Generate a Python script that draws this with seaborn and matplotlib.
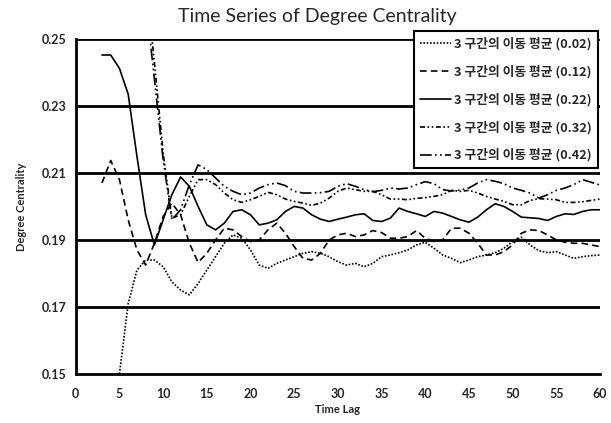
import numpy as np
import pandas as pd
import matplotlib
matplotlib.use("Agg")
import matplotlib.pyplot as plt
import seaborn as sns

# moving-average series (3 intervals)
lag_02 = list(range(5, 61))
ma_02 = [0.1500, 0.1710, 0.1810, 0.1840, 0.1840, 0.1820, 0.1775, 0.1750, 0.1736, 0.1770,
         0.1810, 0.1850, 0.1890, 0.1915, 0.1905, 0.1870, 0.1825, 0.1815, 0.1830, 0.1840,
         0.1850, 0.1860, 0.1865, 0.1860, 0.1850, 0.1835, 0.1825, 0.1830, 0.1820, 0.1830,
         0.1850, 0.1855, 0.1862, 0.1870, 0.1885, 0.1893, 0.1875, 0.1855, 0.1845, 0.1832,
         0.1840, 0.1850, 0.1855, 0.1862, 0.1875, 0.1895, 0.1908, 0.1885, 0.1868, 0.1862,
         0.1865, 0.1855, 0.1845, 0.1850, 0.1853, 0.1855]

lag_12 = list(range(3, 61))
ma_12 = [0.2070, 0.2137, 0.2080, 0.1960, 0.1870, 0.1825, 0.1890, 0.1970, 0.2010, 0.1975,
         0.1890, 0.1833, 0.1860, 0.1900, 0.1935, 0.1930, 0.1910, 0.1895, 0.1900, 0.1930,
         0.1950, 0.1920, 0.1880, 0.1845, 0.1840, 0.1860, 0.1900, 0.1915, 0.1920, 0.1910,
         0.1915, 0.1928, 0.1922, 0.1905, 0.1905, 0.1910, 0.1928, 0.1905, 0.1895, 0.1900,
         0.1935, 0.1935, 0.1920, 0.1890, 0.1855, 0.1855, 0.1865, 0.1885, 0.1920, 0.1930,
         0.1928, 0.1915, 0.1900, 0.1893, 0.1890, 0.1890, 0.1885, 0.1880]

lag_22 = list(range(3, 61))
ma_22 = [0.2452, 0.2452, 0.2412, 0.2335, 0.2150, 0.1975, 0.1885, 0.1960, 0.2035, 0.2088,
         0.2060, 0.2000, 0.1945, 0.1930, 0.1950, 0.1985, 0.1990, 0.1975, 0.1945, 0.1950,
         0.1960, 0.1985, 0.2000, 0.1995, 0.1975, 0.1962, 0.1955, 0.1962, 0.1968, 0.1975,
         0.1978, 0.1958, 0.1955, 0.1965, 0.1995, 0.1985, 0.1978, 0.1970, 0.1985, 0.1980,
         0.1970, 0.1960, 0.1953, 0.1968, 0.1990, 0.2008, 0.2000, 0.1985, 0.1968, 0.1966,
         0.1964, 0.1958, 0.1970, 0.1978, 0.1976, 0.1985, 0.1990, 0.1990]

lag_32 = list(range(8, 61))
ma_32 = [0.2680, 0.2430, 0.2160, 0.1965, 0.1975, 0.2030, 0.2080, 0.2080, 0.2065, 0.2040,
         0.2020, 0.2012, 0.2020, 0.2030, 0.2042, 0.2035, 0.2022, 0.2015, 0.2010, 0.2003,
         0.2010, 0.2025, 0.2045, 0.2055, 0.2050, 0.2045, 0.2045, 0.2035, 0.2022, 0.2022,
         0.2020, 0.2024, 0.2026, 0.2030, 0.2035, 0.2048, 0.2045, 0.2048, 0.2040, 0.2030,
         0.2022, 0.2015, 0.2005, 0.2005, 0.2018, 0.2023, 0.2022, 0.2020, 0.2012, 0.2012,
         0.2014, 0.2018, 0.2022]

lag_42 = list(range(8, 61))
ma_42 = [0.2620, 0.2380, 0.2140, 0.1960, 0.1990, 0.2065, 0.2124, 0.2110, 0.2085, 0.2060,
         0.2045, 0.2035, 0.2040, 0.2055, 0.2065, 0.2070, 0.2062, 0.2045, 0.2040, 0.2040,
         0.2041, 0.2045, 0.2060, 0.2068, 0.2060, 0.2050, 0.2044, 0.2048, 0.2055, 0.2052,
         0.2055, 0.2065, 0.2074, 0.2068, 0.2050, 0.2046, 0.2049, 0.2055, 0.2070, 0.2080,
         0.2075, 0.2068, 0.2055, 0.2048, 0.2040, 0.2025, 0.2035, 0.2048, 0.2055, 0.2065,
         0.2080, 0.2072, 0.2064]

labels = ["3 구간의 이동 평균 (0.02)", "3 구간의 이동 평균 (0.12)", "3 구간의 이동 평균 (0.22)",
          "3 구간의 이동 평균 (0.32)", "3 구간의 이동 평균 (0.42)"]
y_ticks = [0.15, 0.17, 0.19, 0.21, 0.23, 0.25]
x_ticks = list(range(0, 61, 5))

series = [(lag_02, ma_02), (lag_12, ma_12), (lag_22, ma_22), (lag_32, ma_32), (lag_42, ma_42)]
dash_styles = [(0, (1, 1)), (0, (4, 2.5)), "-", (0, (3, 1.5, 1, 1.5, 1, 1.5)), (0, (7, 2, 1, 2, 1, 2))]

sns.set_style("white")
plt.rcParams["font.family"] = ["Lato", "DejaVu Sans"]

fig = plt.figure(figsize=(6.11, 4.23), dpi=100)
ax = fig.add_axes([0.124, 0.116, 0.858, 0.792])

for (x, y), lab, ls in zip(series, labels, dash_styles):
    df = pd.DataFrame({"lag": x, "val": y})
    sns.lineplot(data=df, x="lag", y="val", ax=ax, color="black", linewidth=1.2,
                 linestyle=ls, label=lab)

ax.set_xlim(0, 60)
ax.set_ylim(0.15, 0.25)
ax.set_xticks(x_ticks)
ax.set_yticks(y_ticks)
ax.set_yticklabels([f"{v:.2f}" for v in y_ticks])
for v in y_ticks[1:]:
    ax.axhline(v, color="black", linewidth=2, zorder=0.5)

for s in ["top", "right"]:
    ax.spines[s].set_visible(False)
for s in ["left", "bottom"]:
    ax.spines[s].set_color("black")
    ax.spines[s].set_linewidth(2)
ax.tick_params(axis="x", direction="inout", length=8, width=2, labelsize=9, pad=6)
ax.tick_params(axis="y", direction="out", length=4, width=2, labelsize=9, pad=3)
for t in ax.get_xticklabels() + ax.get_yticklabels():
    t.set_fontweight("bold")

ax.set_xlabel("Time Lag", fontsize=8, fontweight="bold", labelpad=3)
ax.set_ylabel("Degree Centrality", fontsize=8, fontweight="bold", labelpad=10)
fig.text(0.52, 0.962, "Time Series of Degree Centrality", ha="center", va="center", fontsize=14)

leg = ax.legend(loc="upper right", bbox_to_anchor=(1.003, 1.035), frameon=True, fancybox=False,
                edgecolor="black", handlelength=2.4, handletextpad=0.2, labelspacing=1.12,
                borderpad=0.5, borderaxespad=0.3,
                prop={"family": ["Noto Sans CJK KR", "DejaVu Sans"], "weight": "bold", "size": 9.2})
leg.get_frame().set_linewidth(1.5)
leg.get_frame().set_alpha(1)

fig.savefig("out.png", dpi=100)
